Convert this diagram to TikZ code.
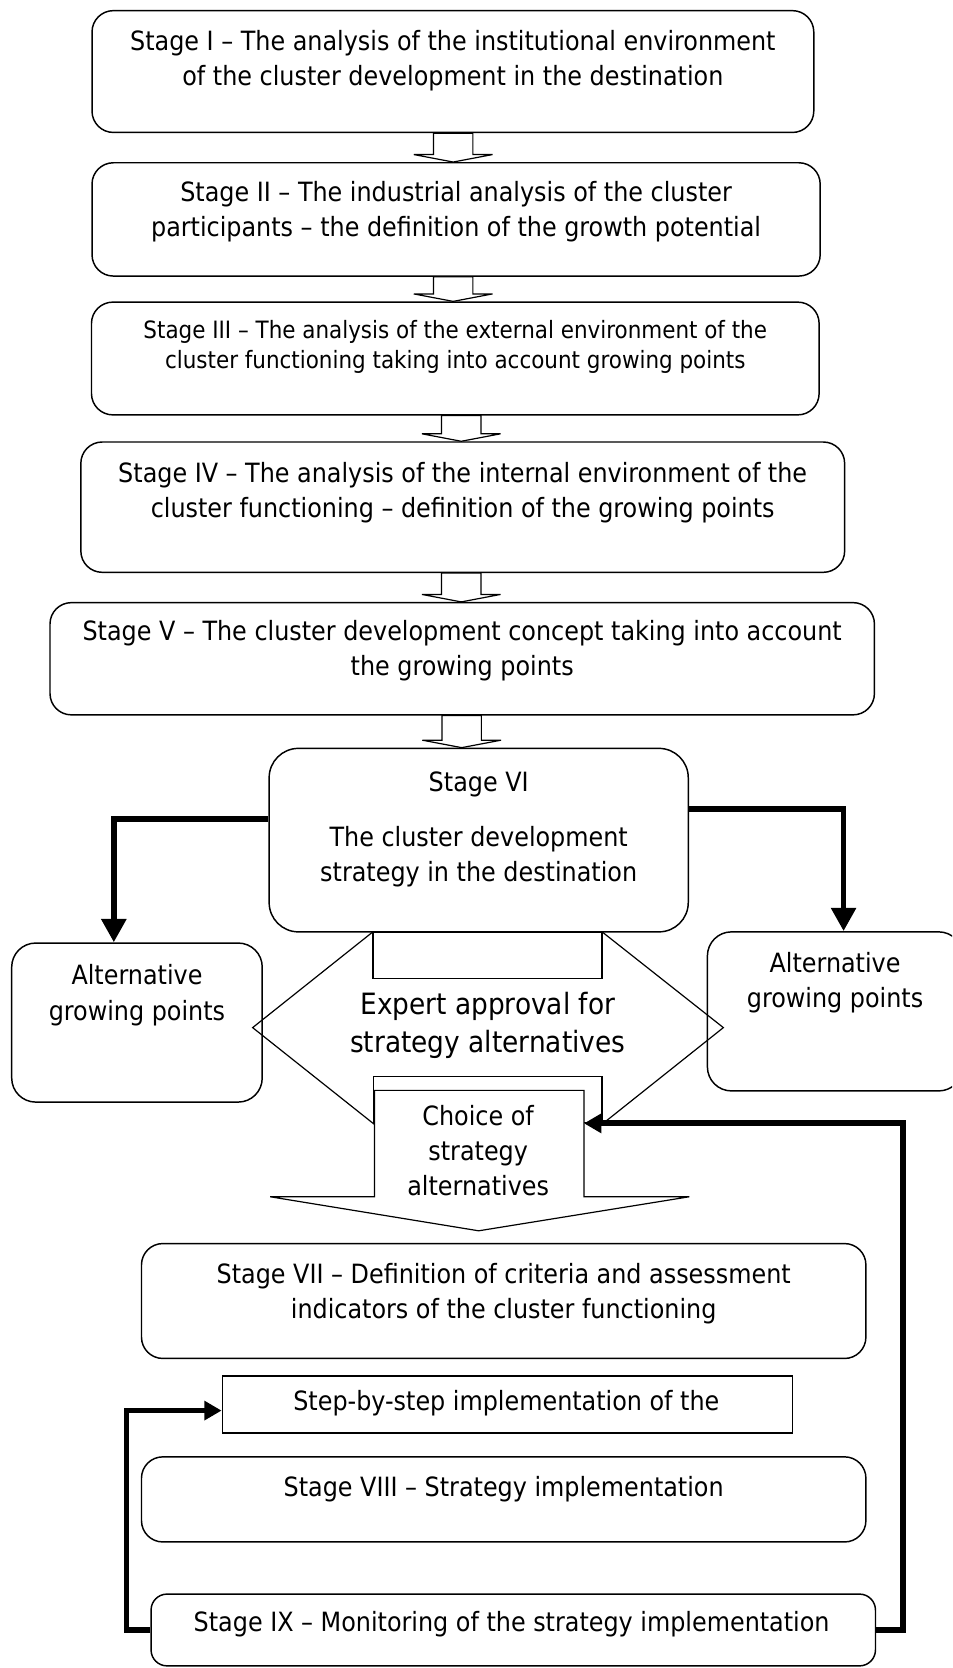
\documentclass[tikz,border=0pt]{standalone}
\usepackage{fontspec}
\setmainfont{DejaVu Sans Condensed}
\usetikzlibrary{arrows.meta,fit}
\newdimen\U \U=0.7978pt
\tikzset{
  stagebox/.style={draw, line width=1.1pt, rounded corners=#1, fill=white, inner sep=0pt},
  stagebox/.default=16pt,
  plainbox/.style={draw, line width=1.1pt, fill=white, inner sep=0pt},
  txt/.style={align=center, inner sep=0pt, font=\fontsize{19.9}{26.3}\selectfont},
  smalltxt/.style={align=center, inner sep=0pt, font=\fontsize{17.9}{22.3}\selectfont},
  bigtxt/.style={align=center, inner sep=0pt, font=\fontsize{22}{28}\selectfont},
  hollow/.style={draw, line width=0.9pt, fill=white, line join=miter},
  shapeline/.style={draw, line width=0.9pt},
  fatline/.style={line width=4.3pt},
  fatdown/.style={fatline, -{Triangle[length=17.5pt,width=18pt]}},
  fatside/.style={fatline, -{Triangle[length=13pt,width=14pt]}},
}
\newcommand\hollowdown[3]{%
  \coordinate (hbase) at ([yshift=5.6pt]#2.north);
  \draw[hollow] (#3-18.5,0 |- #1.south) -- (#3+18.5,0 |- #1.south)
    -- (#3+18.5,0 |- hbase) -- (#3+37,0 |- hbase) -- (#3,0 |- #2.north)
    -- (#3-37,0 |- hbase) -- (#3-18.5,0 |- hbase) -- cycle;}
\begin{document}
\begin{tikzpicture}[x=0.7978pt,y=-0.7978pt]
\clip (0,0) rectangle (895,1568);

% Stages I - V
\node[stagebox, fit={(86.5,10)(765,124.5)}] (s1) {};
\node[txt] (t1) at (s1.center |- 0,57) {Stage I – The analysis of the institutional environment\\of the cluster development in the destination};
\node[stagebox, fit={(86.5,153)(771,259.5)}] (s2) {};
\node[txt] (t2) at (s2.center |- 0,199) {Stage II – The industrial analysis of the cluster\\participants – the definition of the growth potential};
\node[stagebox, fit={(86,284)(770,390)}] (s3) {};
\node[smalltxt] (t3) at (s3.center |- 0,326) {Stage III – The analysis of the external environment of the\\cluster functioning taking into account growing points};
\node[stagebox, fit={(76,415.5)(794,538)}] (s4) {};
\node[txt] (t4) at (s4.center |- 0,463) {Stage IV – The analysis of the internal environment of the\\cluster functioning – definition of the growing points};
\node[stagebox, fit={(47,566.5)(822,672)}] (s5) {};
\node[txt] (t5) at (s5.center |- 0,612) {Stage V – The cluster development concept taking into account\\the growing points};

\hollowdown{s1}{s2}{426}
\hollowdown{s2}{s3}{426}
\hollowdown{s3}{s4}{433.6}
\hollowdown{s4}{s5}{433.6}

% alternative growing points
\node[stagebox=18pt, fit={(11,886.5)(246.5,1036)}] (alt1) {};
\node[txt] (ta1) at (alt1.center |- 0,935.5) {Alternative\\growing points};
\node[stagebox=18pt, fit={(665,876)(905,1025.5)}] (alt2) {};
\node[txt] (ta2) at (alt2.center |- 0,924) {Alternative\\growing points};

% expert approval diamond
\draw[shapeline] (350.5,876) -- (237.5,966) -- (352,1057);
\draw[shapeline] (566,876) -- (680,966) -- (567,1056);

% Stage VI
\node[stagebox=22pt, fit={(253,703.5)(647,876)}] (s6) {};
\node[txt] (t6a) at (s6.center |- 0,737) {Stage VI};
\node[txt] (t6b) at (s6.center |- 0,805) {The cluster development\\strategy in the destination};
\hollowdown{s5}{s6}{434}

\node[plainbox, fit={(350.5,876)(566,920)}] (topbar) {};
\node[plainbox, fit={(351,1012)(566,1055)}] (backbar) {};

% choice arrow
\draw[hollow] (352,1025) -- (549,1025) -- (549,1125) -- (648,1125) -- (450,1157)
  -- (254,1125) -- (352,1125) -- cycle;
\coordinate (choiceR) at (549,1056);
\node[txt] (tchoice) at (449.5,1082) {Choice of\\strategy\\alternatives};
\node[bigtxt] (expert) at (458.5,964) {Expert approval for\\strategy alternatives};

% thick arrows from Stage VI
\draw[fatdown] (s6.west |- 0,770) -| (alt1.north -| 107,0);
\draw[fatdown] (s6.east |- 0,760.5) -| (alt2.north -| 793,0);

% lower stages
\node[stagebox, fit={(133,1169)(814,1277)}] (s7) {};
\node[txt] (t7) at (s7.center |- 0,1216) {Stage VII – Definition of criteria and assessment\\indicators of the cluster functioning};
\node[plainbox, fit={(209,1293.5)(745,1347)}] (step) {};
\node[txt] (tstep) at (476,1319.5) {Step-by-step implementation of the};
\node[stagebox, fit={(133,1369.5)(814,1449.5)}] (s8) {};
\node[txt] (t8) at (s8.center |- 0,1400) {Stage VIII – Strategy implementation};
\node[stagebox=12pt, fit={(142,1498.5)(823,1566)}] (s9) {};
\node[txt] (t9) at (481,1527) {Stage IX – Monitoring of the strategy implementation};

% feedback arrows
\draw[fatside] (s9.east) -| (849,1056) -- (choiceR);
\draw[fatside] (s9.west) -| (119,1326) -- (step.west |- 0,1326);
\end{tikzpicture}
\end{document}
